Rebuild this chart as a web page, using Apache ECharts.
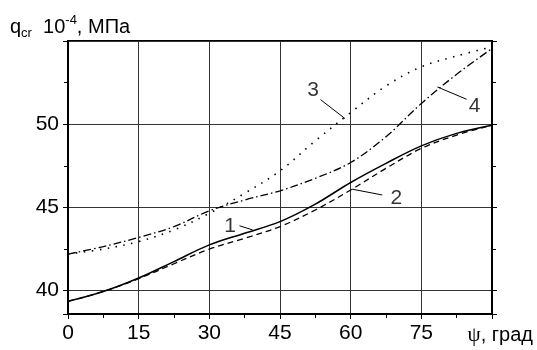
<!DOCTYPE html>
<html>
<head>
<meta charset="utf-8">
<script src="https://cdn.jsdelivr.net/npm/echarts@6/dist/echarts.min.js"></script>
<style>
    html, body { margin: 0; padding: 0; background: #fff; }
    #chart { width: 537px; height: 350px; }
</style>
</head>
<body>
<div id="chart"></div>
<script>
// угол ψ, град
const angles = [0, 7.5, 15, 22.5, 30, 37.5, 45, 52.5, 60, 67.5, 75, 82.5, 90]

// q_cr * 10^-4, МПа
const curve1 = [39.36, 39.95, 40.76, 41.75, 42.75, 43.45, 44.15, 45.2, 46.5, 47.65, 48.7, 49.45, 49.94]
const curve2 = [39.36, 39.95, 40.72, 41.62, 42.5, 43.15, 43.85, 44.85, 46.05, 47.35, 48.55, 49.35, 49.94]
const curve3 = [42.2, 42.5, 42.95, 43.65, 44.65, 45.85, 47.2, 49.0, 50.7, 52.3, 53.45, 54.1, 54.65]
const curve4 = [42.2, 42.65, 43.2, 43.85, 44.8, 45.45, 46.0, 46.75, 47.7, 49.25, 51.25, 53.0, 54.55]

const xTicks = [0, 15, 30, 45, 60, 75, 90]
const yTicks = [40, 45, 50]

// номера кривых и выноски
const curveNames = ['1', '2', '3', '4']
const namePos = [[34.4, 43.9], [69.7, 45.57], [52.05, 52.04], [86.3, 51.08]]
const leaders = [
    [[36.4, 43.9], [39.2, 43.65]],
    [[60.3, 46.1], [66.7, 45.75]],
    [[53.6, 51.48], [58.8, 50.34]],
    [[78.4, 52.24], [84.6, 51.5]]
]

const font = "'Liberation Sans', Arial, sans-serif"
const pairs = vals => angles.map((a, i) => [a, vals[i]])

const curveStyles = [
    { type: 'solid', width: 1.5 },
    { type: [6, 4], width: 1.3 },
    { type: [1.5, 6.5], width: 1.6 },
    { type: [8, 3, 1.5, 3], width: 1.3 }
]

const lineSeries = [curve1, curve2, curve3, curve4].map((vals, i) => ({
    name: curveNames[i],
    type: 'line',
    smooth: 0.35,
    symbol: 'none',
    data: pairs(vals),
    lineStyle: Object.assign({ color: '#000' }, curveStyles[i]),
    z: 3
}))

const leaderSeries = leaders.map(seg => ({
    type: 'line',
    symbol: 'none',
    data: seg,
    lineStyle: { color: '#000', width: 1 },
    silent: true,
    z: 4
}))

const labelSeries = {
    type: 'scatter',
    symbolSize: 0,
    data: namePos.map((p, i) => ({ value: p, name: curveNames[i] })),
    label: {
        show: true,
        position: 'inside',
        formatter: p => p.name,
        color: '#000',
        fontFamily: font,
        fontSize: 21
    },
    silent: true,
    z: 5
}

const yAxisBase = {
    type: 'value',
    min: 38.6,
    max: 55,
    splitNumber: 3,
    axisLine: { show: true, lineStyle: { color: '#000', width: 2 } },
    axisTick: { show: true, length: 5, lineStyle: { color: '#000', width: 1 } },
    minorTick: { show: true, splitNumber: 2, length: 4, lineStyle: { color: '#000' } }
}

const chart = echarts.init(document.getElementById('chart'))
chart.setOption({
    animation: false,
    backgroundColor: '#fff',
    grid: {
        left: 68, right: 45, top: 41, bottom: 36,
        show: true, borderColor: '#000', borderWidth: 2
    },
    graphic: [{
        type: 'text',
        left: 10,
        top: 14,
        style: {
            text: '{n|q}{sub|cr}{n|  10}{sup|-4}{n|, МПа}',
            fontFamily: font,
            fill: '#000',
            rich: {
                n: { fontSize: 20, lineHeight: 26, fontFamily: font },
                sub: { fontSize: 13, lineHeight: 15, verticalAlign: 'bottom', fontFamily: font },
                sup: { fontSize: 13, lineHeight: 13, verticalAlign: 'top', fontFamily: font }
            }
        }
    }],
    xAxis: {
        type: 'value',
        min: xTicks[0],
        max: xTicks[xTicks.length - 1],
        interval: 15,
        name: '{p|ψ}{t|, град}',
        nameLocation: 'end',
        nameGap: 41,
        nameTextStyle: {
            align: 'right',
            verticalAlign: 'top',
            padding: [11, 0, 0, 0],
            rich: {
                p: { fontSize: 21, fontFamily: "'Liberation Serif', serif", color: '#000' },
                t: { fontSize: 20, fontFamily: font, color: '#000' }
            }
        },
        axisLine: { lineStyle: { color: '#000', width: 2 } },
        axisTick: { show: true, length: 5, lineStyle: { color: '#000', width: 1 } },
        minorTick: { show: true, splitNumber: 2, length: 4, lineStyle: { color: '#000' } },
        axisLabel: {
            margin: 9,
            color: '#000',
            fontFamily: font,
            fontSize: 21,
            formatter: v => (xTicks.indexOf(v) >= 0 && v < 90 ? String(v) : '')
        },
        splitLine: { show: true, lineStyle: { color: '#333', width: 1 } }
    },
    yAxis: [
        Object.assign({}, yAxisBase, {
            position: 'left',
            axisLabel: {
                margin: 9,
                color: '#000',
                fontFamily: font,
                fontSize: 21,
                formatter: v => (yTicks.indexOf(v) >= 0 ? String(v) : '')
            },
            splitLine: { show: true, lineStyle: { color: '#333', width: 1 } }
        }),
        Object.assign({}, yAxisBase, {
            position: 'right',
            axisLabel: { show: false },
            splitLine: { show: false }
        })
    ],
    series: lineSeries.concat(leaderSeries, [labelSeries])
})
</script>
</body>
</html>
